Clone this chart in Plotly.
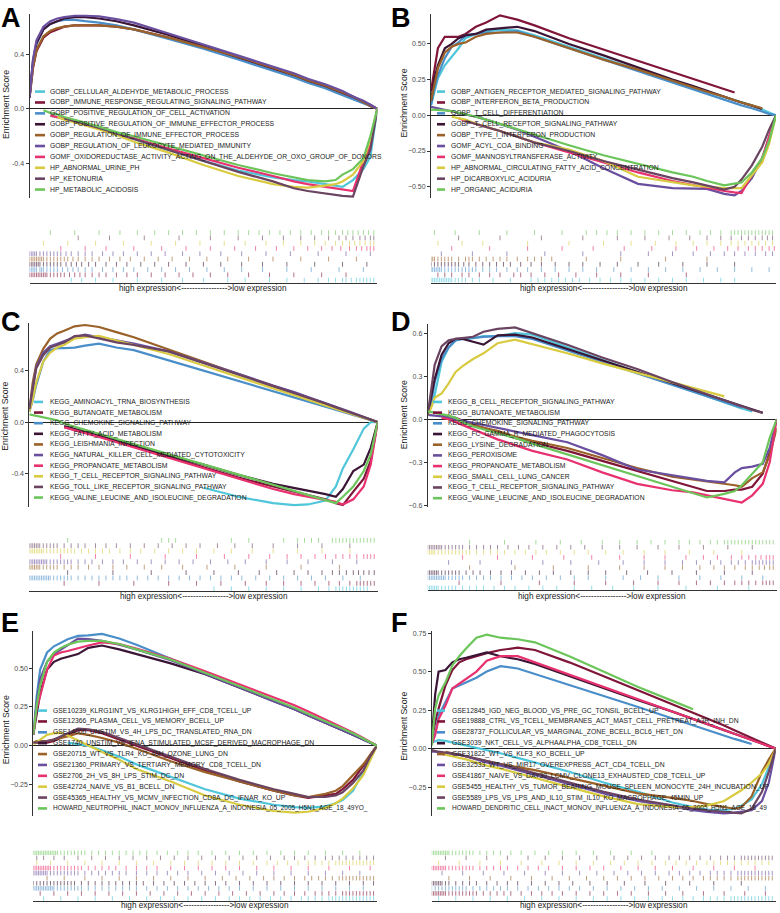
import plotly.graph_objects as go

N = None
# running-score grid (fraction of ranked gene list)
G = [0, .01, .02, .04, .06, .08, .1, .13, .16, .2, .25, .3, .4, .5, .6, .7, .76, .8, .85, .88, .9, .93, .96, .98, 1]

COLORS = ["#4FC6DA", "#7F1538", "#4A8EC9", "#3B1535", "#9A6128",
          "#6A4F9E", "#E8326F", "#D8CB42", "#6A4460", "#6CC55A"]

# ---------------- Panel A ----------------
A_NAMES = ["GOBP_CELLULAR_ALDEHYDE_METABOLIC_PROCESS",
           "GOBP_IMMUNE_RESPONSE_REGULATING_SIGNALING_PATHWAY",
           "GOBP_POSITIVE_REGULATION_OF_CELL_ACTIVATION",
           "GOBP_POSITIVE_REGULATION_OF_IMMUNE_EFFECTOR_PROCESS",
           "GOBP_REGULATION_OF_IMMUNE_EFFECTOR_PROCESS",
           "GOBP_REGULATION_OF_LEUKOCYTE_MEDIATED_IMMUNITY",
           "GOMF_OXIDOREDUCTASE_ACTIVITY_ACTING_ON_THE_ALDEHYDE_OR_OXO_GROUP_OF_DONORS",
           "HP_ABNORMAL_URINE_PH", "HP_KETONURIA", "HP_METABOLIC_ACIDOSIS"]
A_ES = [
    [N, N, N, N, -0.05, -0.06, -0.07, -0.09, -0.11, -0.14, -0.18, -0.22, -0.3, -0.38, -0.45, -0.5, -0.52, -0.53, -0.55, -0.56, -0.57, -0.52, -0.44, -0.35, 0],
    [0.08, 0.3, 0.42, 0.52, 0.56, 0.58, 0.6, 0.61, 0.61, 0.61, 0.6, 0.58, 0.52, 0.45, 0.37, 0.29, 0.24, 0.2, 0.16, 0.13, 0.11, 0.08, 0.05, 0.02, 0],
    [0.08, 0.33, 0.47, 0.58, 0.62, 0.64, 0.65, 0.65, 0.64, 0.63, 0.61, 0.58, 0.51, 0.44, 0.36, 0.28, 0.23, 0.19, 0.15, 0.12, 0.1, 0.07, 0.04, 0.02, 0],
    [0.08, 0.35, 0.48, 0.58, 0.62, 0.64, 0.66, 0.67, 0.67, 0.66, 0.64, 0.61, 0.54, 0.46, 0.38, 0.3, 0.25, 0.21, 0.17, 0.14, 0.12, 0.09, 0.05, 0.03, 0],
    [0.08, 0.3, 0.43, 0.53, 0.57, 0.59, 0.6, 0.61, 0.61, 0.61, 0.6, 0.58, 0.52, 0.45, 0.38, 0.3, 0.25, 0.21, 0.17, 0.14, 0.12, 0.09, 0.05, 0.02, 0],
    [0.08, 0.36, 0.5, 0.6, 0.64, 0.66, 0.67, 0.68, 0.68, 0.675, 0.655, 0.63, 0.55, 0.47, 0.39, 0.31, 0.26, 0.22, 0.18, 0.15, 0.13, 0.09, 0.06, 0.03, 0],
    [N, N, N, N, -0.05, -0.06, -0.07, -0.09, -0.11, -0.14, -0.18, -0.22, -0.29, -0.36, -0.43, -0.49, -0.53, -0.55, -0.57, -0.58, -0.59, -0.6, -0.38, -0.27, 0],
    [N, N, N, N, N, -0.06, -0.08, -0.1, -0.12, -0.15, -0.19, -0.24, -0.32, -0.41, -0.49, -0.55, -0.57, -0.575, -0.56, -0.55, -0.53, -0.48, -0.38, -0.22, 0],
    [N, N, N, N, N, N, -0.07, -0.09, -0.11, -0.14, -0.18, -0.22, -0.3, -0.38, -0.46, -0.53, -0.58, -0.6, -0.62, -0.63, -0.635, -0.64, -0.42, -0.3, 0],
    [N, N, N, -0.01, -0.03, -0.04, -0.06, -0.08, -0.1, -0.13, -0.17, -0.2, -0.27, -0.34, -0.41, -0.47, -0.5, -0.52, -0.53, -0.52, -0.48, -0.44, -0.36, -0.2, 0],
]
A_HITS = [
    "12 15 19 24 31 38 44 50 57 62 69 74 79 83 86 88 90 91 92.5 94 95 96 97 98 99",
    "0 .5 1 1.5 2 2.5 3 3.5 4 4.5 5 6 7 8 9 10 11.5 13 14.5 16 18 20 22 25 28 31 35 39 43 47 52 57 63 69 76 84 91",
    "0 .5 1 1.5 2 3 3.5 4 5 6 7 8 9.5 11 12.5 14 16 18 21 24 27 30 34 38 42 46 51 56 61 67 74 81 89 96",
    "0 .5 1 1.5 2 2.5 3 4 5 6 7 8 9 10.5 12 13.5 15 17 19 22 25 28 32 36 40 45 50 55 61 67 74 82 90 97",
    "0 .5 1 1.5 2 2.5 3 3.5 4 5 6 7 8 9 10 11 12.5 14 16 18 20 23 26 29 33 37 41 46 51 57 63 70 78 86 94",
    "0 .5 1 1.5 2 3 4 5 6 7 8 9 10.5 12 14 16 18 21 24 27 31 35 39 44 49 55 61 68 75 83 91 98",
    "9 16 22 30 38 45 52 59 65 71 76 80 84 87 89.5 92 94 95.5 97 98 99",
    "4 11 19 27 35 42 49 56 62 68 73 78 82 85 88 90 92 93.5 95 96.5 98 99",
    "14 23 33 43 52 60 67 73 78 82 86 89 91 93 95 96.5 98 99",
    "6 13 20 26 31 36 40 44 48 52 56 60 63 66 69 72 75 78 81 84 86 88 90 91.5 93 94.5 96 97.5 99",
]
A_TICKS = [-0.4, 0.0, 0.4]
A_TICKTEXT = ["-0.4", "0.0", "0.4"]

# ---------------- Panel B ----------------
B_NAMES = ["GOBP_ANTIGEN_RECEPTOR_MEDIATED_SIGNALING_PATHWAY",
           "GOBP_INTERFERON_BETA_PRODUCTION",
           "GOBP_T_CELL_DIFFERENTIATION",
           "GOBP_T_CELL_RECEPTOR_SIGNALING_PATHWAY",
           "GOBP_TYPE_I_INTERFERON_PRODUCTION",
           "GOMF_ACYL_COA_BINDING",
           "GOMF_MANNOSYLTRANSFERASE_ACTIVITY",
           "HP_ABNORMAL_CIRCULATING_FATTY_ACID_CONCENTRATION",
           "HP_DICARBOXYLIC_ACIDURIA", "HP_ORGANIC_ACIDURIA"]
B_ES = [
    [0.07, 0.16, 0.26, 0.35, 0.41, 0.47, 0.54, 0.57, 0.59, 0.6, 0.595, 0.56, 0.48, 0.4, 0.32, 0.24, 0.19, 0.165, 0.13, 0.11, 0.095, 0.07, 0.04, 0.02, 0],
    [0.17, 0.33, 0.47, 0.55, 0.55, 0.55, 0.57, 0.62, 0.65, 0.7, 0.67, 0.63, 0.54, 0.46, 0.38, 0.3, 0.255, 0.22, 0.18, 0.16, N, N, N, N, N],
    [0.07, 0.19, 0.28, 0.4, 0.48, 0.51, 0.56, 0.57, 0.58, 0.58, 0.59, 0.55, 0.47, 0.39, 0.31, 0.23, 0.18, 0.15, 0.11, 0.085, 0.07, 0.05, 0.025, 0.01, 0],
    [0.1, 0.26, 0.35, 0.47, 0.5, 0.54, 0.56, 0.57, 0.6, 0.61, 0.62, 0.59, 0.5, 0.42, 0.335, 0.25, 0.205, 0.17, 0.13, 0.105, 0.09, 0.065, 0.045, N, N],
    [0.1, 0.22, 0.33, 0.44, 0.48, 0.5, 0.51, 0.55, 0.57, 0.58, 0.58, 0.55, 0.47, 0.39, 0.32, 0.24, 0.195, 0.165, 0.13, 0.105, 0.09, 0.07, 0.05, N, N],
    [0.06, 0.055, 0.05, 0.04, 0.03, 0.02, 0.01, -0.01, -0.03, -0.06, -0.1, -0.15, -0.25, -0.37, -0.48, -0.51, -0.51, -0.515, -0.55, -0.56, -0.53, -0.44, -0.3, -0.15, 0],
    [N, N, N, N, N, -0.02, -0.04, -0.06, -0.08, -0.11, -0.15, -0.19, -0.26, -0.33, -0.4, -0.46, -0.49, -0.51, -0.53, -0.54, -0.545, -0.42, -0.3, -0.15, 0],
    [N, N, N, N, -0.01, -0.02, -0.03, -0.06, -0.08, -0.11, -0.15, -0.19, -0.24, -0.32, -0.43, -0.47, -0.49, -0.5, -0.51, -0.51, -0.51, -0.42, -0.33, -0.2, 0],
    [N, N, N, N, N, N, -0.04, -0.06, -0.08, -0.11, -0.15, -0.19, -0.25, -0.32, -0.38, -0.44, -0.47, -0.49, -0.52, -0.5, -0.45, -0.35, -0.22, -0.1, 0],
    [0.04, 0.04, 0.04, 0.035, 0.03, 0.02, 0.01, -0.01, -0.03, -0.06, -0.1, -0.14, -0.21, -0.28, -0.34, -0.4, -0.43, -0.46, -0.49, -0.48, -0.47, -0.4, -0.3, -0.18, 0],
]
B_HITS = [
    "0 .5 1 1.5 2 2.5 3 3.5 4 4.5 5 5.5 6 7 8 9 10 12 14 18 23 29 31 33 35 37 39 41 43 46 49 52 55 58 62 66 70 74 79 84 88",
    "2 4 6 9 11 14 17 20 24 26 29 33 37 42 48 55 63 74",
    "0 .5 1 1.5 2 2.5 3 4 5 6 7 8 9 10 11 12 13 15 17 19 22 25 28 32 36 40 44 48 53 58 63 68 73 78 83 88 93 98",
    "0 1 2 3 4 5 6 7 8 9.5 11 13 15 17 19 21 23 26 29 32 36 40 44 49 54 60 66 73 80 88",
    "0 .5 1 2 3 4 5 6 8 10 11 12 14 16 18 20 22 25 28 30 32 35 45 55 68 80",
    "3 12 22 33 44 55 63 70 76 81 85 88 91 94 97 99",
    "6 17 28 38 47 56 64 71 77 82 86 89 92 94 96 98 99.5",
    "2 9 15 28 40 50 58 65 71 76 80 84 87 89 91 93 95 97 99",
    "8 20 32 44 54 62 69 75 80 84 87 90 92 94 96 97.5 99",
    "1 7 14 22 30 38 45 48 51 54 58 62 66 70 74 78 81 84 87 88 89 90 91 92 93 94 95 96 97 98 99",
]
B_TICKS = [-0.5, -0.25, 0.0, 0.25, 0.5]
B_TICKTEXT = ["\u22120.50", "\u22120.25", "0.00", "0.25", "0.50"]

# ---------------- Panel C ----------------
C_NAMES = ["KEGG_AMINOACYL_TRNA_BIOSYNTHESIS", "KEGG_BUTANOATE_METABOLISM",
           "KEGG_CHEMOKINE_SIGNALING_PATHWAY", "KEGG_FATTY_ACID_METABOLISM",
           "KEGG_LEISHMANIA_INFECTION", "KEGG_NATURAL_KILLER_CELL_MEDIATED_CYTOTOXICITY",
           "KEGG_PROPANOATE_METABOLISM", "KEGG_T_CELL_RECEPTOR_SIGNALING_PATHWAY",
           "KEGG_TOLL_LIKE_RECEPTOR_SIGNALING_PATHWAY",
           "KEGG_VALINE_LEUCINE_AND_ISOLEUCINE_DEGRADATION"]
C_ES = [
    [N, N, N, N, N, N, N, N, N, N, N, N, N, -0.51, -0.58, -0.63, -0.645, -0.64, -0.61, -0.5, -0.36, -0.21, -0.05, 0, 0],
    [N, N, N, N, N, N, -0.04, -0.06, -0.08, -0.11, -0.15, -0.19, -0.27, -0.35, -0.43, -0.5, -0.54, -0.57, -0.6, -0.63, -0.645, -0.54, -0.44, -0.3, 0],
    [0.08, 0.17, 0.29, 0.47, 0.56, 0.575, 0.575, 0.58, 0.595, 0.61, 0.58, 0.56, 0.48, 0.4, 0.32, 0.24, 0.19, 0.16, 0.12, 0.095, 0.08, 0.057, 0.033, 0.016, 0],
    [N, N, N, N, N, N, -0.03, -0.05, -0.07, -0.1, -0.14, -0.18, -0.26, -0.33, -0.41, -0.48, -0.51, -0.53, -0.56, -0.58, -0.52, -0.38, -0.33, -0.2, 0],
    [0.1, 0.31, 0.45, 0.57, 0.65, 0.69, 0.71, 0.745, 0.755, 0.74, 0.7, 0.66, 0.565, 0.47, 0.38, 0.28, 0.23, 0.19, 0.14, 0.11, 0.09, 0.065, 0.035, 0.02, 0],
    [0.1, 0.28, 0.43, 0.54, 0.59, 0.61, 0.63, 0.66, 0.68, 0.66, 0.63, 0.61, 0.55, 0.465, 0.375, 0.285, 0.235, 0.195, 0.15, 0.12, 0.1, 0.07, 0.04, 0.02, 0],
    [N, N, N, N, N, N, -0.04, -0.06, -0.085, -0.115, -0.155, -0.2, -0.28, -0.36, -0.44, -0.52, -0.56, -0.58, -0.6, -0.62, -0.64, -0.6, -0.5, -0.33, 0],
    [0.08, 0.18, 0.31, 0.47, 0.54, 0.58, 0.6, 0.65, 0.66, 0.67, 0.635, 0.6, 0.53, 0.44, 0.35, 0.26, 0.21, 0.175, 0.13, 0.1, 0.085, 0.06, 0.035, 0.02, 0],
    [0.1, 0.26, 0.42, 0.52, 0.58, 0.6, 0.62, 0.67, 0.675, 0.65, 0.62, 0.6, 0.55, 0.46, 0.37, 0.28, 0.23, 0.19, 0.145, 0.115, 0.095, 0.065, 0.04, 0.02, 0],
    [0.06, 0.055, 0.05, 0.04, 0.03, 0.015, -0.01, -0.036, -0.06, -0.09, -0.13, -0.17, -0.25, -0.33, -0.41, -0.49, -0.54, -0.57, -0.61, -0.63, -0.58, -0.5, -0.38, -0.25, 0],
]
C_HITS = [
    "53 58 63 68 73 78 83 86 88 89 90 91 92 93 94 95 96 97",
    "10 20 30 40 48 55 62 68 73 78 82 86 89 92 94 95 96 97 98 99",
    "0 .5 1 1.5 2 2.5 3 3.5 4 4.5 5 5.5 6 7 8 9 10 11 12 14 16 18 20 22 24 26 28 31 34 37 40 43 46 49 52 55 58 61 65 69 73 77 81 85 90 95",
    "11 24 35 45 53 60 66 71 76 80 84 87 89 91 93 94.5 96 97.5 99",
    "0 .5 1 1.5 2 2.5 3 4 5 6 7 8 10 12 14 17 20 24 28 33 38 44 51 59 68 78 89",
    "0 .5 1 1.5 2 2.5 3 3.5 4 4.5 5 6 7 8 9 10 11 12 14 16 18 21 24 27 31 35 39 43 47 52 57 62 68 74 80 87 94",
    "9 19 29 39 48 56 63 69 74 78 82 85 88 90 92 94 96 97 98 99",
    "0 .5 1 1.5 2 2.5 3 3.5 4 5 6 7 8 9 10 11 12 13 15 17 19 21 23 26 29 32 36 40 44 48 53 58 64 70 77 84 92",
    "0 .5 1 1.5 2 2.5 3 4 5 6 7 8 10 12 14 16 19 22 25 29 33 37 41 45 49 54 59 64 70 77 84 92",
    "11 38 40 42 58 63 73 77 79 81 83 87 88 89 90 91 92 93 94 95 96 97 98 99",
]
C_TICKS = [-0.4, 0.0, 0.4]
C_TICKTEXT = ["-0.4", "0.0", "0.4"]

# ---------------- Panel D ----------------
D_NAMES = ["KEGG_B_CELL_RECEPTOR_SIGNALING_PATHWAY", "KEGG_BUTANOATE_METABOLISM",
           "KEGG_CHEMOKINE_SIGNALING_PATHWAY", "KEGG_FC_GAMMA_R_MEDIATED_PHAGOCYTOSIS",
           "KEGG_LYSINE_DEGRADATION", "KEGG_PEROXISOME", "KEGG_PROPANOATE_METABOLISM",
           "KEGG_SMALL_CELL_LUNG_CANCER", "KEGG_T_CELL_RECEPTOR_SIGNALING_PATHWAY",
           "KEGG_VALINE_LEUCINE_AND_ISOLEUCINE_DEGRADATION"]
D_ES = [
    [0.03, 0.1, 0.17, 0.4, 0.5, 0.55, 0.56, 0.565, 0.58, 0.58, 0.6, 0.59, 0.5, 0.415, 0.33, 0.245, 0.195, 0.16, 0.12, 0.093, 0.075, 0.055, N, N, N],
    [N, N, N, 0.03, 0.02, 0.01, -0.01, -0.04, -0.06, -0.09, -0.13, -0.16, -0.22, -0.29, -0.36, -0.43, -0.47, -0.5, -0.5, -0.49, -0.49, -0.47, -0.38, -0.23, 0],
    [0.03, 0.12, 0.26, 0.42, 0.5, 0.55, 0.56, 0.57, 0.575, 0.58, 0.58, 0.56, 0.48, 0.4, 0.32, 0.24, 0.19, 0.16, 0.12, 0.095, 0.08, N, N, N, N],
    [0.03, 0.15, 0.28, 0.45, 0.53, 0.56, 0.56, 0.54, 0.52, 0.585, 0.59, 0.57, 0.49, 0.41, 0.33, 0.25, 0.2, 0.17, 0.13, 0.105, 0.09, 0.065, 0.045, N, N],
    [N, N, N, 0.02, 0.01, 0.0, -0.02, -0.04, -0.06, -0.08, -0.12, -0.15, -0.2, -0.27, -0.34, -0.4, -0.42, -0.43, -0.45, -0.46, -0.47, -0.41, -0.37, -0.25, -0.06],
    [0.03, 0.028, 0.025, 0.02, 0.01, 0.0, -0.01, -0.03, -0.045, -0.065, -0.09, -0.11, -0.16, -0.25, -0.35, -0.39, -0.41, -0.43, -0.44, -0.37, -0.34, -0.33, -0.31, -0.2, 0],
    [N, N, N, 0.01, 0.0, -0.02, -0.04, -0.07, -0.1, -0.14, -0.18, -0.22, -0.28, -0.37, -0.45, -0.495, -0.51, -0.53, -0.55, -0.57, -0.58, -0.53, -0.45, -0.3, 0],
    [0.03, 0.08, 0.15, 0.18, 0.25, 0.33, 0.37, 0.42, 0.46, 0.53, 0.555, 0.525, 0.46, 0.39, 0.325, 0.26, 0.22, 0.19, 0.16, N, N, N, N, N, N],
    [0.03, 0.19, 0.38, 0.51, 0.55, 0.56, 0.565, 0.575, 0.61, 0.63, 0.64, 0.6, 0.52, 0.43, 0.35, 0.26, 0.21, 0.175, 0.13, 0.11, 0.09, 0.065, 0.045, N, N],
    [0.055, 0.05, 0.045, 0.035, 0.025, 0.01, -0.02, -0.05, -0.07, -0.095, -0.13, -0.17, -0.245, -0.32, -0.395, -0.47, -0.515, -0.545, -0.52, -0.5, -0.46, -0.38, -0.3, -0.13, 0],
]
D_HITS = [
    "0 .5 1 1.5 2 2.5 3 4 5 6 7 8 10 12 14 16 19 22 25 29 33 37 42 47 53 59 66 74 83 92",
    "9 21 32 42 51 59 66 72 77 81 85 88 90 92 94 96 97 98 99",
    "0 .5 1 1.5 2 2.5 3 3.5 4 4.5 5 6 7 8 9 10 12 14 16 18 21 24 27 30 34 38 42 46 51 56 61 66 72 78 84 90 96",
    "0 .5 1 1.5 2 2.5 3 4 5 6 7 8 9 11 13 15 18 21 24 28 32 36 41 46 51 57 63 70 77 85 93",
    "12 25 36 46 55 62 68 73 78 82 85 88 91 93 95 96.5 98 99",
    "6 15 24 33 41 49 56 62 68 73 77 81 84 87 89 91 93 94 95 96 97 98 99",
    "10 20 30 39 47 55 62 68 74 79 83 87 90 92 94 95.5 97 98 99",
    "0 .5 1 1.5 2 3 4 5 6 7 8 9 10 11 12 14 16 18 20 22 25 28 31 34 38 42 46 51 56 62 68 75 82 90",
    "0 .5 1 1.5 2 2.5 3 3.5 4 5 6 7 8 9 10 12 14 16 18 20 23 26 29 33 37 41 45 50 55 60 66 72 79 86 93",
    "12 22 31 38 44 50 55 60 64 68 72 75 78 81 83 85 86 87 88 89 90 91 92 93 94 95 96 97 98 99",
]
D_TICKS = [-0.6, -0.3, 0.0, 0.3, 0.6]
D_TICKTEXT = ["\u22120.6", "\u22120.3", "0.0", "0.3", "0.6"]

# ---------------- Panel E ----------------
E_NAMES = ["GSE10239_KLRG1INT_VS_KLRG1HIGH_EFF_CD8_TCELL_UP",
           "GSE12366_PLASMA_CELL_VS_MEMORY_BCELL_UP",
           "GSE14000_UNSTIM_VS_4H_LPS_DC_TRANSLATED_RNA_DN",
           "GSE1740_UNSTIM_VS_IFNA_STIMULATED_MCSF_DERIVED_MACROPHAGE_DN",
           "GSE20715_WT_VS_TLR4_KO_48H_OZONE_LUNG_DN",
           "GSE21360_PRIMARY_VS_TERTIARY_MEMORY_CD8_TCELL_DN",
           "GSE2706_2H_VS_8H_LPS_STIM_DC_DN",
           "GSE42724_NAIVE_VS_B1_BCELL_DN",
           "GSE45365_HEALTHY_VS_MCMV_INFECTION_CD8A_DC_IFNAR_KO_UP",
           "HOWARD_NEUTROPHIL_INACT_MONOV_INFLUENZA_A_INDONESIA_05_2005_H5N1_AGE_18_49YO_"]
E_ES = [
    [N, N, N, N, N, N, 0.02, 0.01, 0.0, -0.03, -0.07, -0.12, -0.2, -0.28, -0.34, -0.38, -0.395, -0.4, -0.39, -0.37, -0.35, -0.29, -0.17, -0.08, 0],
    [0.02, 0.02, 0.02, 0.02, 0.03, 0.05, 0.07, 0.1, 0.1, 0.08, 0.04, 0.0, -0.08, -0.16, -0.23, -0.29, -0.32, -0.335, -0.32, -0.31, -0.28, -0.22, -0.13, -0.06, 0],
    [0.07, 0.32, 0.49, 0.6, 0.64, 0.665, 0.685, 0.707, 0.71, 0.72, 0.69, 0.65, 0.56, 0.47, 0.38, 0.29, 0.24, 0.2, 0.15, 0.12, 0.1, 0.07, 0.04, 0.02, 0],
    [0.07, 0.22, 0.34, 0.49, 0.54, 0.56, 0.57, 0.59, 0.63, 0.645, 0.62, 0.59, 0.53, 0.46, 0.375, 0.285, 0.235, 0.195, 0.15, 0.12, 0.1, 0.07, 0.04, 0.02, 0],
    [0.02, 0.03, 0.03, 0.03, 0.04, 0.05, 0.06, 0.08, 0.07, 0.05, 0.02, -0.02, -0.1, -0.17, -0.23, -0.29, -0.32, -0.33, -0.31, -0.29, -0.26, -0.19, -0.12, -0.06, 0],
    [0.07, 0.28, 0.43, 0.54, 0.59, 0.62, 0.65, 0.69, 0.686, 0.675, 0.65, 0.62, 0.55, 0.465, 0.375, 0.285, 0.235, 0.195, 0.15, 0.12, 0.1, 0.07, 0.04, 0.02, 0],
    [0.07, 0.24, 0.32, 0.49, 0.58, 0.6, 0.61, 0.63, 0.645, 0.665, 0.655, 0.625, 0.56, 0.48, 0.395, 0.31, 0.26, 0.22, 0.17, 0.14, 0.12, 0.085, 0.05, 0.025, 0],
    [0.01, 0.02, 0.04, 0.07, 0.08, 0.083, 0.066, 0.034, 0.0, -0.04, -0.09, -0.15, -0.23, -0.32, -0.38, -0.42, -0.43, -0.425, -0.4, -0.37, -0.34, -0.275, -0.19, -0.1, 0],
    [0.02, 0.02, 0.025, 0.03, 0.04, 0.06, 0.08, 0.11, 0.105, 0.09, 0.05, 0.01, -0.07, -0.15, -0.22, -0.28, -0.31, -0.33, -0.33, -0.32, -0.3, -0.24, -0.16, -0.07, 0],
    [0.07, 0.26, 0.39, 0.54, 0.6, 0.63, 0.65, 0.67, 0.675, 0.675, 0.655, 0.62, 0.555, 0.47, 0.385, 0.295, 0.245, 0.205, 0.16, 0.13, 0.11, 0.08, 0.045, 0.02, 0],
]
E_HITS = [
    "3 8 13 18 23 28 33 37 41 45 49 53 57 60 63 66 69 72 75 78 80 82 84 86 87 88 89 90 91 92 93 94 95 96 97 98 99",
    "2 6 10 14 18 22 26 30 34 38 42 46 50 54 58 62 66 70 73 76 79 82 84 86 88 90 91 92 93 94 95 96 97 98 99",
    "0 .5 1 1.5 2 2.5 3 3.5 4 4.5 5 5.5 6 7 8 9 10 11 12 13 14 16 18 20 22 24 26 28 30 33 36 39 42 45 48 51 54 57 60 64 68 72 76 80 84 88 92 96",
    "0 1 2 3 4 5 6 7 8 9 10 11 12 14 16 18 20 22 24 26 28 30 32 35 38 41 44 47 50 53 56 60 64 68 72 76 80 84 88 92 96 99",
    "4 9 15 20 25 30 35 40 45 50 55 59 63 67 70 73 76 79 81 83 85 87 89 90 91 92 93 94 95 96 97 98 99",
    "0 .5 1 1.5 2 2.5 3 3.5 4 5 6 7 8 9 10 11 12 13 15 17 19 21 23 25 27 30 33 36 39 42 45 49 53 57 61 65 70 75 80 85 90 95",
    "0 .5 1 1.5 2 2.5 3 3.5 4 4.5 5 6 7 8 9 10 11 12 13 14 16 18 20 22 24 27 30 33 36 40 44 48 52 56 60 65 70 75 80 86 92 98",
    "1 5 10 15 20 25 30 35 40 44 48 52 56 60 64 68 71 74 77 80 82 84 86 88 89 90 91 92 93 94 95 96 97 98 99",
    "1 3 6 9 13 17 21 25 29 33 37 41 45 49 53 57 61 65 69 73 76 79 82 85 87 89 91 93 95 97 99",
    "0 .5 1 1.5 2 2.5 3 3.5 4 4.5 5 5.5 6 6.5 7 8 9 10 11 12 13 14 15 17 19 21 23 25 27 29 31 33 36 39 42 45 48 52 56 60 64 68 72 76 80 85 90 95",
]
E_TICKS = [-0.25, 0.0, 0.25, 0.5]
E_TICKTEXT = ["\u22120.25", "0.00", "0.25", "0.50"]

# ---------------- Panel F ----------------
F_NAMES = ["GSE12845_IGD_NEG_BLOOD_VS_PRE_GC_TONSIL_BCELL_UP",
           "GSE19888_CTRL_VS_TCELL_MEMBRANES_ACT_MAST_CELL_PRETREAT_A3R_INH_DN",
           "GSE28737_FOLLICULAR_VS_MARGINAL_ZONE_BCELL_BCL6_HET_DN",
           "GSE3039_NKT_CELL_VS_ALPHAALPHA_CD8_TCELL_DN",
           "GSE31822_WT_VS_KLF3_KO_BCELL_UP",
           "GSE32533_WT_VS_MIR17_OVEREXPRESS_ACT_CD4_TCELL_DN",
           "GSE41867_NAIVE_VS_DAY30_LCMV_CLONE13_EXHAUSTED_CD8_TCELL_UP",
           "GSE5455_HEALTHY_VS_TUMOR_BEARING_MOUSE_SPLEEN_MONOCYTE_24H_INCUBATION_UP",
           "GSE5589_LPS_VS_LPS_AND_IL10_STIM_IL10_KO_MACROPHAGE_45MIN_UP",
           "HOWARD_DENDRITIC_CELL_INACT_MONOV_INFLUENZA_A_INDONESIA_05_2005_H5N1_AGE_18_49"]
F_ES = [
    [0.04, 0.05, 0.055, 0.05, 0.04, 0.03, 0.02, 0.005, -0.01, -0.03, -0.06, -0.09, -0.15, -0.22, -0.28, -0.35, -0.38, -0.395, -0.4, -0.39, -0.37, -0.33, -0.23, -0.12, 0],
    [0.05, 0.17, 0.26, 0.41, 0.51, 0.56, 0.58, 0.6, 0.62, 0.64, 0.655, 0.64, 0.56, 0.47, 0.38, 0.29, 0.235, 0.195, 0.15, 0.12, 0.1, 0.07, 0.04, 0.02, 0],
    [0.03, 0.09, 0.215, 0.3, 0.39, 0.41, 0.43, 0.46, 0.5, 0.535, 0.52, 0.485, 0.41, 0.34, 0.27, 0.195, 0.15, 0.12, 0.086, 0.063, 0.05, 0.03, N, N, N],
    [0.05, 0.35, 0.5, 0.51, 0.56, 0.58, 0.59, 0.61, 0.625, 0.6, 0.58, 0.55, 0.47, 0.39, 0.315, 0.24, 0.19, 0.16, 0.12, 0.097, 0.08, 0.056, 0.032, 0.015, 0],
    [N, N, N, -0.02, -0.03, -0.04, -0.05, -0.065, -0.08, -0.1, -0.12, -0.14, -0.19, -0.24, -0.29, -0.32, -0.34, -0.36, -0.38, -0.39, -0.38, -0.31, -0.15, -0.07, 0],
    [-0.02, -0.02, -0.025, -0.03, -0.035, -0.04, -0.05, -0.07, -0.09, -0.11, -0.14, -0.17, -0.23, -0.29, -0.34, -0.38, -0.4, -0.41, -0.42, -0.415, -0.41, -0.4, -0.34, -0.22, 0],
    [0.03, 0.09, 0.19, 0.28, 0.39, 0.42, 0.45, 0.5, 0.57, 0.6, 0.6, 0.56, 0.48, 0.4, 0.32, 0.24, 0.195, 0.16, 0.12, 0.097, 0.08, 0.055, 0.03, 0.015, 0],
    [N, N, -0.03, -0.04, -0.05, -0.06, -0.07, -0.09, -0.11, -0.13, -0.16, -0.19, -0.25, -0.31, -0.36, -0.38, -0.38, -0.37, -0.34, -0.3, -0.27, -0.22, -0.16, -0.1, 0],
    [-0.01, -0.015, -0.02, -0.025, -0.03, -0.04, -0.05, -0.065, -0.08, -0.1, -0.13, -0.16, -0.22, -0.28, -0.33, -0.37, -0.39, -0.4, -0.41, -0.415, -0.42, -0.39, -0.28, -0.15, 0],
    [0.02, 0.26, 0.345, 0.43, 0.54, 0.6, 0.65, 0.72, 0.74, 0.72, 0.71, 0.69, 0.6, 0.5, 0.4, 0.31, 0.255, N, N, N, N, N, N, N, N],
]
F_HITS = [
    "2 7 12 17 22 27 32 37 42 47 51 55 59 63 67 70 73 76 79 81 83 85 87 88 89 90 91 92 93 94 95 96 97 98 99",
    "0 .5 1 1.5 2 2.5 3 3.5 4 5 6 7 8 9 10 11 12 13 15 17 19 21 23 26 29 32 35 38 42 46 50 54 58 63 68 73 79 85 91 97",
    "0 1 2 3 4 5 6 7 8 9 10 12 14 16 18 20 22 25 28 31 34 37 40 43 47 51 55 59 63 67 72 77 82 87 92 97",
    "0 .5 1 1.5 2 2.5 3 4 5 7 9 11 13 16 19 22 25 29 33 37 41 46 51 56 62 68 75 82 90",
    "5 11 17 23 29 35 40 45 50 54 58 62 66 70 73 76 79 81 83 85 87 89 90 91 92 93 94 95 96 97 98 99",
    "3 9 15 21 27 33 38 43 48 53 57 61 65 69 72 75 78 81 83 85 87 89 90 91 92 93 94 95 96 97 98 99",
    "0 .5 1 1.5 2 2.5 3 3.5 4 5 6 7 8 9 10 11 12 14 16 18 20 22 25 28 31 34 38 42 46 50 55 60 65 70 76 82 88 94",
    "2 8 14 20 26 32 37 42 47 52 56 60 64 68 71 74 77 80 82 84 86 88 90 92 94 96 98",
    "4 10 16 22 28 33 38 43 48 53 57 61 65 69 72 75 78 81 84 86 88 90 91 92 93 94 95 96 97 98 99",
    "0 .5 1 1.5 2 2.5 3 3.5 4 4.5 5 6 7 8 9 10 11 12 14 16 18 20 23 26 30 34 38 42 47 52 58 64",
]
F_TICKS = [-0.25, 0.0, 0.25, 0.5, 0.75]
F_TICKTEXT = ["\u22120.25", "0.00", "0.25", "0.50", "0.75"]

RUG_TEXT = "high expression<----------------->low expression"

PANELS = [
    ("A", A_NAMES, A_ES, A_HITS, A_TICKS, A_TICKTEXT),
    ("B", B_NAMES, B_ES, B_HITS, B_TICKS, B_TICKTEXT),
    ("C", C_NAMES, C_ES, C_HITS, C_TICKS, C_TICKTEXT),
    ("D", D_NAMES, D_ES, D_HITS, D_TICKS, D_TICKTEXT),
    ("E", E_NAMES, E_ES, E_HITS, E_TICKS, E_TICKTEXT),
    ("F", F_NAMES, F_ES, F_HITS, F_TICKS, F_TICKTEXT),
]

# ---------------- geometry (pixels) ----------------
W, H = 780, 913
GEOM = [
    dict(x0=29.5, x1=377.3, t=12, b=197, yr=[-0.652, 0.693], rt=229, rb=282, txty=287.5,
         lab=(0, 0.5), ttl=(5.5, 103), k0=35, k1=45, kt=49, ly0=90, step=10.93),
    dict(x0=431, x1=776, t=12, b=197, yr=[-0.58, 0.71], rt=229, rb=282, txty=287.5,
         lab=(390, 0.5), ttl=(404, 102), k0=437, k1=445, kt=450, ly0=90, step=10.93),
    dict(x0=29.3, x1=377.7, t=322, b=507, yr=[-0.658, 0.774], rt=538, rb=592, txty=597.5,
         lab=(0, 305), ttl=(5.5, 416), k0=34, k1=43, kt=49, ly0=401.7, step=10.67),
    dict(x0=427.7, x1=776.7, t=323, b=507, yr=[-0.61, 0.667], rt=540, rb=591, txty=597.5,
         lab=(390, 305), ttl=(404, 415), k0=433, k1=442, kt=447, ly0=401.7, step=10.74),
    dict(x0=33.3, x1=377, t=632, b=818, yr=[-0.455, 0.737], rt=852, rb=903, txty=907,
         lab=(0, 608), ttl=(5.5, 731), k0=38, k1=47, kt=52, ly0=711.7, step=10.92),
    dict(x0=431.7, x1=775.7, t=632, b=818, yr=[-0.44, 0.762], rt=852, rb=903, txty=907,
         lab=(390, 608), ttl=(404, 728), k0=437, k1=445, kt=451, ly0=711.7, step=10.92),
]


def fx(p):
    return p / W


def fy(p):
    return 1 - p / H


fig = go.Figure()
layout = dict(width=W, height=H, margin=dict(l=0, r=0, t=0, b=0),
              paper_bgcolor="white", plot_bgcolor="white", showlegend=False,
              font=dict(family="Liberation Sans, Arial, sans-serif", color="#1a1a1a"))
annotations = []
shapes = []

for i, (letter, names, es, hits, tv, tt) in enumerate(PANELS):
    g = GEOM[i]
    ne, nr = 2 * i + 1, 2 * i + 2
    xe, ye = f"x{ne}", f"y{ne}"
    xr, yr = f"x{nr}", f"y{nr}"

    # running enrichment score curves
    for k in range(10):
        fig.add_trace(go.Scatter(x=G, y=es[k], mode="lines",
                                 line=dict(color=COLORS[k], width=2.2),
                                 xaxis=xe, yaxis=ye, hoverinfo="skip", name=names[k]))
    # hit rug
    for k in range(10):
        xs, ys = [], []
        for p in hits[k].split():
            v = float(p) / 100.0
            xs += [v, v, None]
            ys += [k + 0.05, k + 0.95, None]
        fig.add_trace(go.Scatter(x=xs, y=ys, mode="lines",
                                 line=dict(color=COLORS[k], width=1),
                                 opacity=0.6, xaxis=xr, yaxis=yr,
                                 hoverinfo="skip", name=names[k]))

    layout[f"xaxis{ne}"] = dict(domain=[fx(g["x0"]), fx(g["x1"])], range=[0, 1],
                                visible=False, anchor=ye, fixedrange=True)
    layout[f"yaxis{ne}"] = dict(domain=[fy(g["b"]), fy(g["t"])], range=g["yr"], anchor=xe,
                                showline=True, linecolor="#333333", linewidth=1,
                                ticks="outside", ticklen=3, tickcolor="#333333", tickwidth=1,
                                tickvals=tv, ticktext=tt,
                                tickfont=dict(size=7, color="#4d4d4d"),
                                showgrid=False, zeroline=True, zerolinecolor="#222222",
                                zerolinewidth=1)
    layout[f"xaxis{nr}"] = dict(domain=[fx(g["x0"]), fx(g["x1"])], range=[0, 1], anchor=yr,
                                showline=True, linecolor="#333333", linewidth=1,
                                showticklabels=False, ticks="", showgrid=False, zeroline=False)
    layout[f"yaxis{nr}"] = dict(domain=[fy(g["rb"]), fy(g["rt"])], range=[0, 10], anchor=xr,
                                visible=False)

    # panel letter
    annotations.append(dict(x=fx(g["lab"][0]), y=fy(g["lab"][1]), xref="paper", yref="paper",
                            text=f"<b>{letter}</b>", showarrow=False, xanchor="left",
                            yanchor="top", borderpad=0,
                            font=dict(size=27, family="Liberation Sans, Arial", color="black")))
    # y title
    annotations.append(dict(x=fx(g["ttl"][0]), y=fy(g["ttl"][1]), xref="paper", yref="paper",
                            text="Enrichment Score", textangle=-90, showarrow=False,
                            xanchor="center", yanchor="middle",
                            font=dict(size=8.7, color="#1a1a1a")))
    # rug caption
    annotations.append(dict(x=fx((g["x0"] + g["x1"]) / 2), y=fy(g["txty"]), xref="paper",
                            yref="paper", text=RUG_TEXT, showarrow=False,
                            xanchor="center", yanchor="middle", borderpad=0,
                            font=dict(size=8.2, color="#1a1a1a")))
    # legend
    for k in range(10):
        yy = fy(g["ly0"] + k * g["step"])
        shapes.append(dict(type="line", xref="paper", yref="paper",
                           x0=fx(g["k0"]), x1=fx(g["k1"]), y0=yy, y1=yy,
                           line=dict(color=COLORS[k], width=2.6)))
        fsize = 6.8 if len(names[k]) < 76 else 6.5
        annotations.append(dict(x=fx(g["kt"]), y=yy, xref="paper", yref="paper",
                                text=names[k], showarrow=False, xanchor="left",
                                yanchor="middle", borderpad=0,
                                font=dict(size=fsize, color="#1a1a1a")))

layout["annotations"] = annotations
layout["shapes"] = shapes
fig.update_layout(**layout)
fig.write_html("out.html", config={"displayModeBar": False},
               post_script="document.body.style.margin='0px';"
                           "document.body.style.overflow='hidden';")
